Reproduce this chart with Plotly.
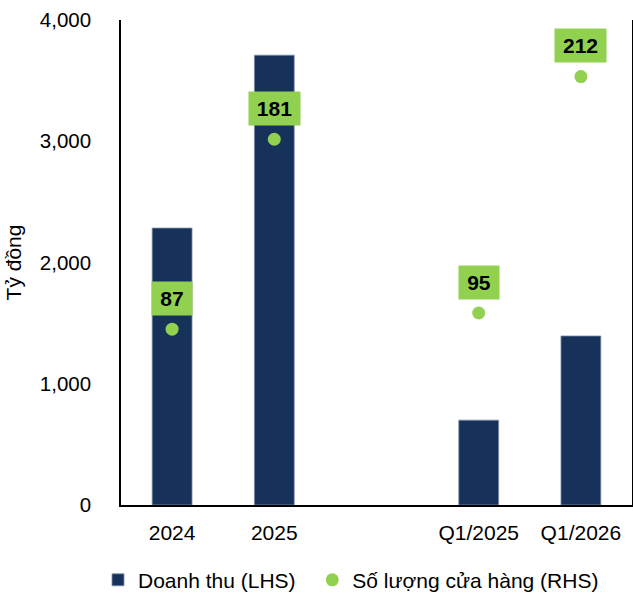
import plotly.graph_objects as go

# Categories (a blank slot separates annual from quarterly figures)
categories = ["2024", "2025", " ", "Q1/2025", "Q1/2026"]
bar_categories = ["2024", "2025", "Q1/2025", "Q1/2026"]

# Revenue, billion VND (left axis)
revenue = [2284, 3710, 700, 1394]

# Number of stores (right axis)
stores = [87, 181, 95, 212]

y_ticks = [0, 1000, 2000, 3000, 4000]

NAVY = "#17325A"
GREEN = "#92D050"
FONT = "Liberation Sans, Arial, sans-serif"

fig = go.Figure()

fig.add_trace(go.Bar(
    x=bar_categories,
    y=revenue,
    # trailing no-break spaces widen the gap to the next legend entry
    name="Doanh thu (LHS)\u00a0\u00a0",
    marker=dict(color=NAVY, line=dict(color="#7F8FA6", width=0.8)),
    width=0.39,
    yaxis="y",
))

fig.add_trace(go.Scatter(
    x=bar_categories,
    y=stores,
    name="Số lượng cửa hàng (RHS)",
    mode="markers",
    marker=dict(color=GREEN, size=13),
    yaxis="y2",
))

# Green value boxes above each store marker (x given as category index)
for cat, val in zip(bar_categories, stores):
    fig.add_annotation(
        x=categories.index(cat), y=val, xref="x", yref="y2",
        text=f"<b>{val}</b>",
        showarrow=False,
        yshift=31,
        bgcolor=GREEN,
        width=18 + 11 * len(str(val)),
        height=33,
        borderpad=0,
        font=dict(family=FONT, size=21, color="#000000"),
    )

fig.update_layout(
    width=633,
    height=596,
    margin=dict(l=121, r=1, t=20, b=91, autoexpand=False),
    paper_bgcolor="white",
    plot_bgcolor="white",
    font=dict(family=FONT, size=21, color="#000000"),
    showlegend=True,
    legend=dict(
        orientation="h",
        x=-0.045, xanchor="left",
        y=-0.155, yanchor="middle",
        font=dict(family=FONT, size=21, color="#000000"),
        itemwidth=30,
        tracegroupgap=0,
    ),
    xaxis=dict(
        type="category",
        categoryorder="array",
        categoryarray=categories,
        range=[-0.5, 4.5],
        showline=True,
        linecolor="#000000",
        linewidth=1.5,
        ticks="",
        showgrid=False,
        zeroline=False,
        ticklabelstandoff=8,
        tickfont=dict(family=FONT, size=21, color="#000000"),
    ),
    yaxis=dict(
        range=[0, 4000],
        tickvals=y_ticks,
        tickformat=",",
        showline=True,
        linecolor="#000000",
        linewidth=1.5,
        ticks="",
        showgrid=False,
        zeroline=False,
        ticklabelstandoff=24,
        tickfont=dict(family=FONT, size=20.5, color="#000000"),
        title=dict(text="Tỷ đồng", standoff=12,
                   font=dict(family=FONT, size=21, color="#000000")),
    ),
    yaxis2=dict(
        range=[0, 240],
        overlaying="y",
        side="right",
        showline=True,
        linecolor="#000000",
        linewidth=1.5,
        ticks="",
        showticklabels=False,
        showgrid=False,
        zeroline=False,
    ),
)

fig.write_html("out.html")
